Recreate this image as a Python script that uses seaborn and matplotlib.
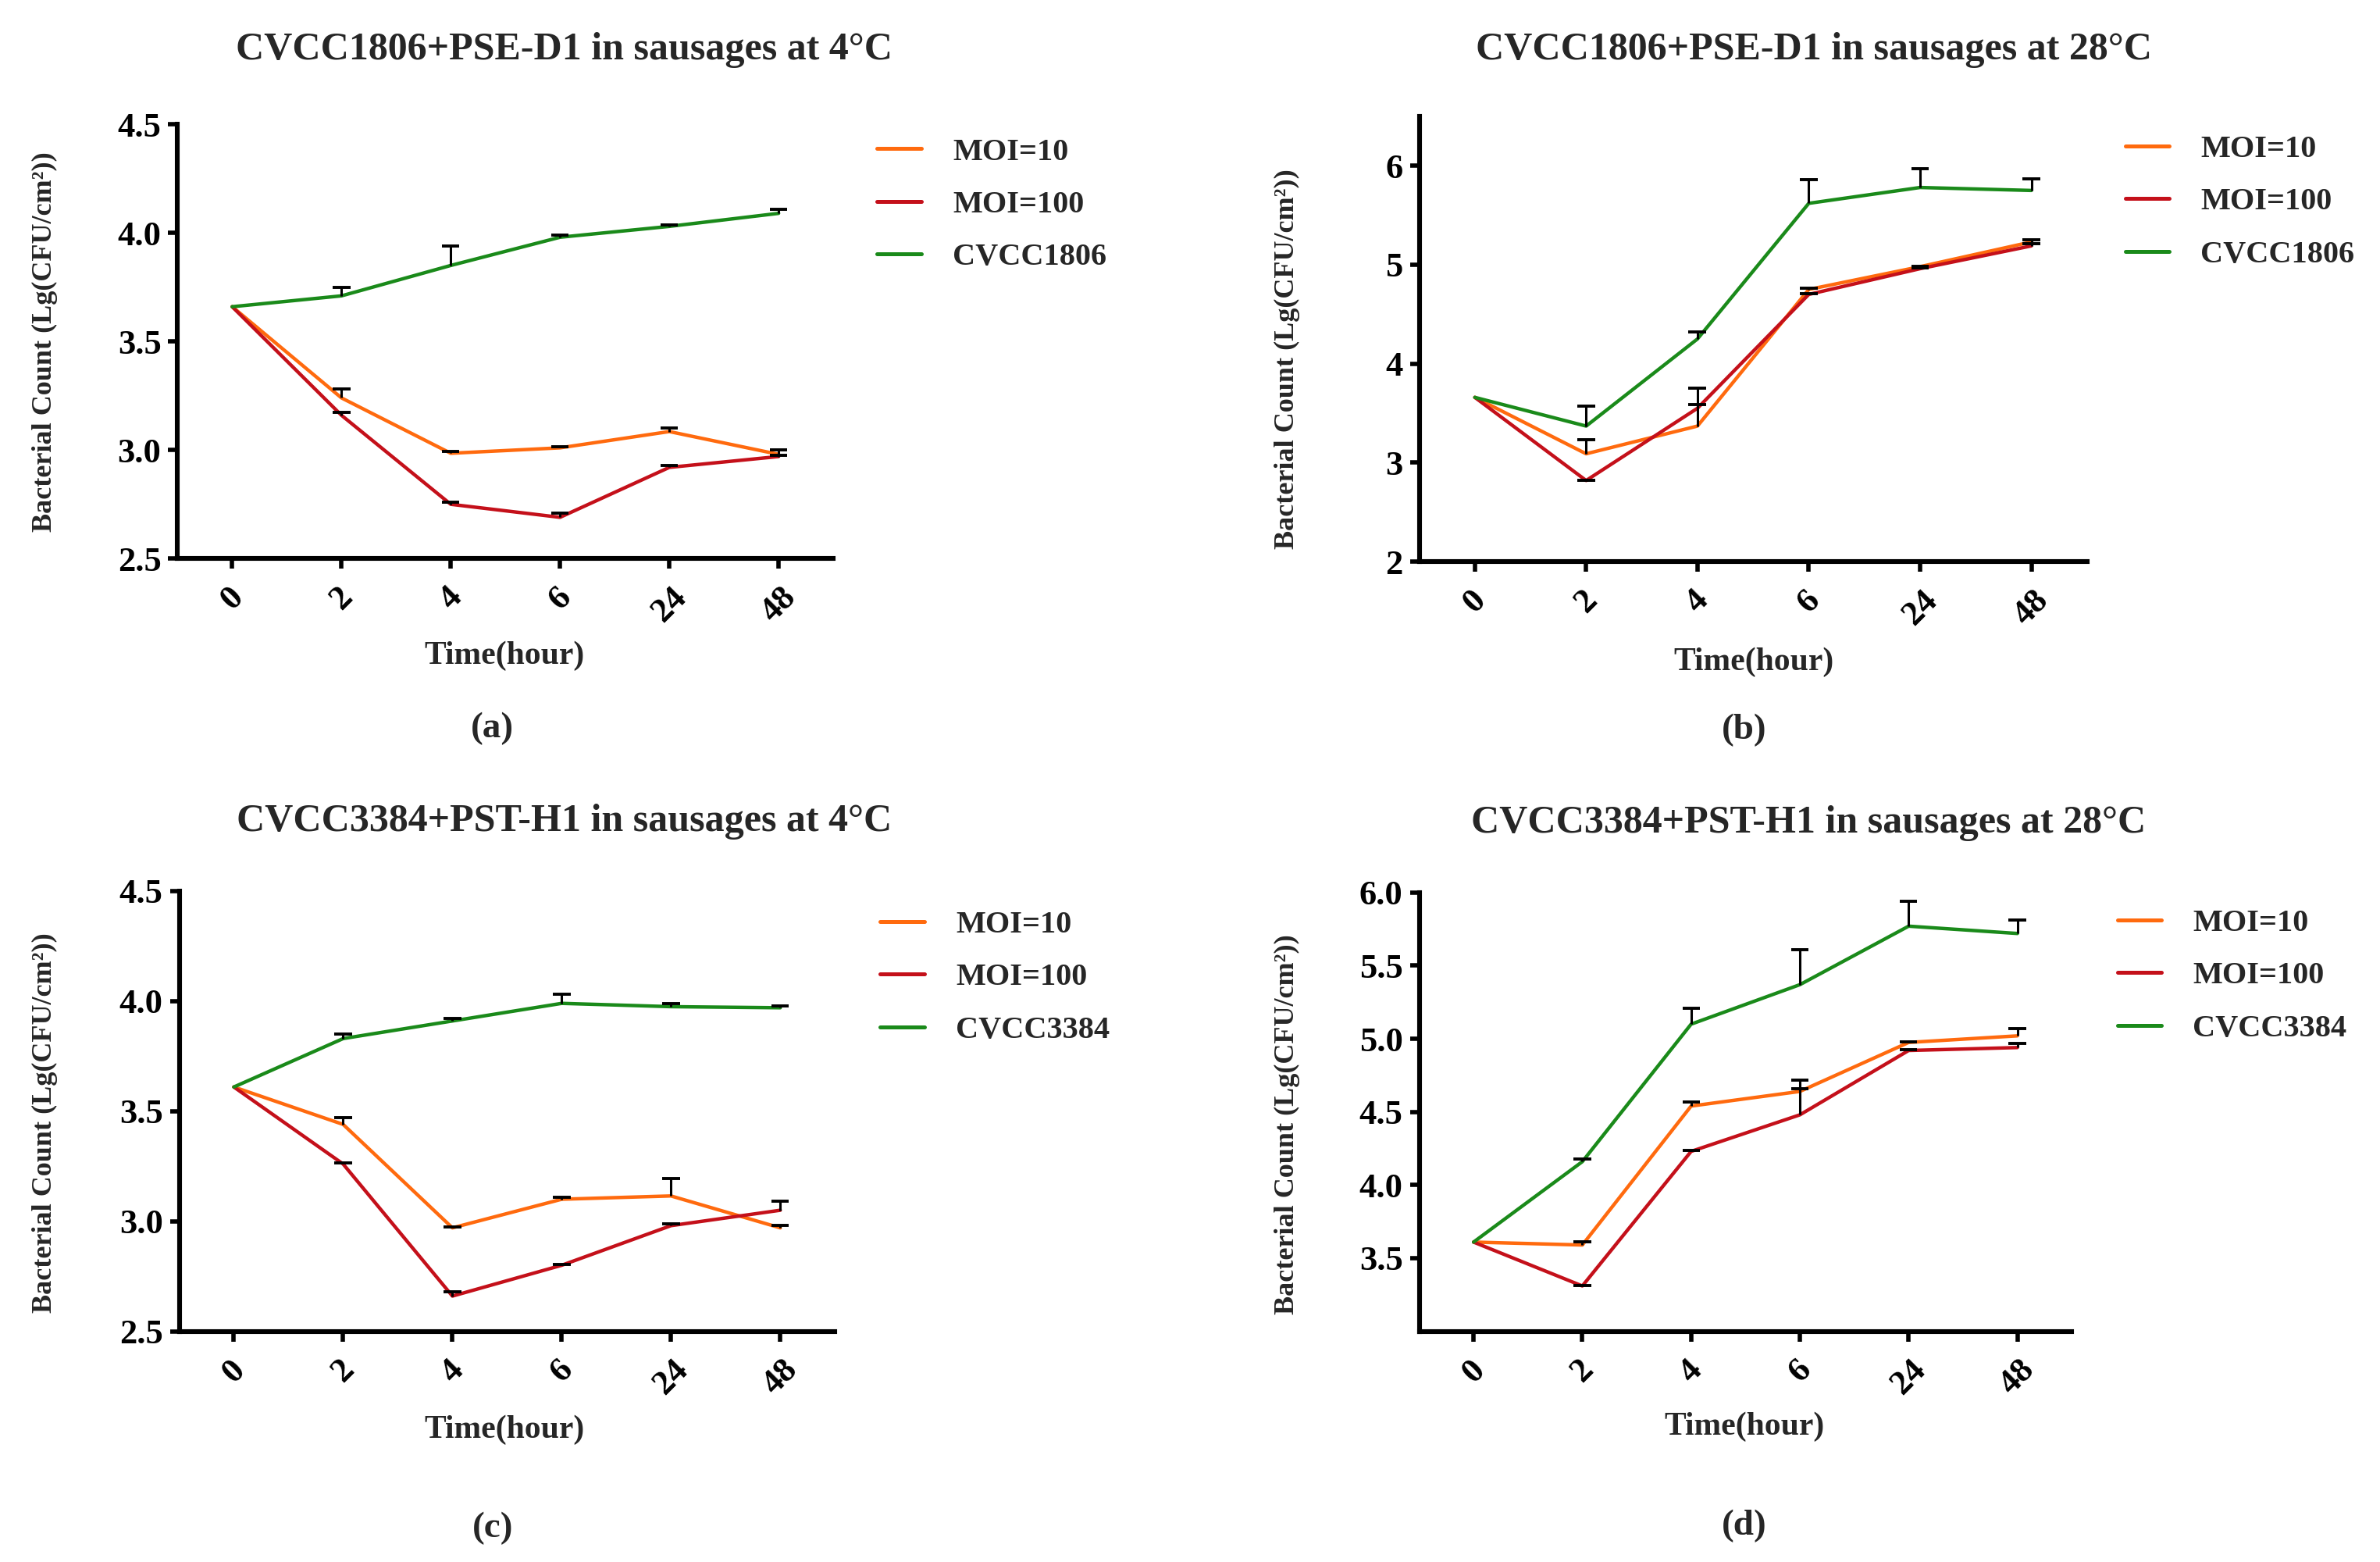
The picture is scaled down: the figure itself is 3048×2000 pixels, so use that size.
import numpy as np
import pandas as pd
import matplotlib
matplotlib.use("Agg")
import matplotlib.pyplot as plt
import seaborn as sns

# ---------------- data ----------------
times = ["0", "2", "4", "6", "24", "48"]

# (a) CVCC1806 + PSE-D1, 4 C
a_moi10 = [3.66, 3.24, 2.985, 3.01, 3.085, 2.98]
a_moi10_err = [0.0, 0.04, 0.01, 0.005, 0.015, 0.02]
a_moi100 = [3.66, 3.16, 2.75, 2.69, 2.92, 2.97]
a_moi100_err = [0.0, 0.015, 0.01, 0.02, 0.01, 0.005]
a_ctrl = [3.66, 3.71, 3.85, 3.98, 4.03, 4.09]
a_ctrl_err = [0.0, 0.04, 0.09, 0.01, 0.005, 0.02]

# (b) CVCC1806 + PSE-D1, 28 C
b_moi10 = [3.66, 3.09, 3.37, 4.75, 4.98, 5.23]
b_moi10_err = [0.0, 0.14, 0.22, 0.01, 0.005, 0.02]
b_moi100 = [3.66, 2.82, 3.55, 4.70, 4.96, 5.19]
b_moi100_err = [0.0, 0.005, 0.20, 0.01, 0.01, 0.02]
b_ctrl = [3.66, 3.37, 4.25, 5.62, 5.78, 5.75]
b_ctrl_err = [0.0, 0.20, 0.07, 0.24, 0.19, 0.12]

# (c) CVCC3384 + PST-H1, 4 C
c_moi10 = [3.61, 3.44, 2.97, 3.10, 3.115, 2.97]
c_moi10_err = [0.0, 0.03, 0.005, 0.01, 0.08, 0.01]
c_moi100 = [3.61, 3.26, 2.66, 2.80, 2.98, 3.05]
c_moi100_err = [0.0, 0.005, 0.02, 0.005, 0.01, 0.04]
c_ctrl = [3.61, 3.83, 3.91, 3.99, 3.975, 3.97]
c_ctrl_err = [0.0, 0.02, 0.01, 0.04, 0.015, 0.01]

# (d) CVCC3384 + PST-H1, 28 C
d_moi10 = [3.61, 3.59, 4.54, 4.64, 4.975, 5.02]
d_moi10_err = [0.0, 0.02, 0.03, 0.08, 0.005, 0.05]
d_moi100 = [3.61, 3.31, 4.23, 4.48, 4.92, 4.94]
d_moi100_err = [0.0, 0.005, 0.005, 0.18, 0.005, 0.03]
d_ctrl = [3.61, 4.16, 5.10, 5.37, 5.77, 5.72]
d_ctrl_err = [0.0, 0.02, 0.11, 0.24, 0.17, 0.09]

titles = ["CVCC1806+PSE-D1 in sausages at 4\u00b0C",
          "CVCC1806+PSE-D1 in sausages at 28\u00b0C",
          "CVCC3384+PST-H1 in sausages at 4\u00b0C",
          "CVCC3384+PST-H1 in sausages at 28\u00b0C"]
ctrl_names = ["CVCC1806", "CVCC1806", "CVCC3384", "CVCC3384"]
letters = ["(a)", "(b)", "(c)", "(d)"]
ylims = [(2.5, 4.5), (2.0, 6.5), (2.5, 4.5), (3.0, 6.0)]
yticks = [[2.5, 3.0, 3.5, 4.0, 4.5], [2, 3, 4, 5, 6],
          [2.5, 3.0, 3.5, 4.0, 4.5], [3.5, 4.0, 4.5, 5.0, 5.5, 6.0]]
yfmt = ["%.1f", "%d", "%.1f", "%.1f"]

panels = [
    (a_moi10, a_moi10_err, a_moi100, a_moi100_err, a_ctrl, a_ctrl_err),
    (b_moi10, b_moi10_err, b_moi100, b_moi100_err, b_ctrl, b_ctrl_err),
    (c_moi10, c_moi10_err, c_moi100, c_moi100_err, c_ctrl, c_ctrl_err),
    (d_moi10, d_moi10_err, d_moi100, d_moi100_err, d_ctrl, d_ctrl_err),
]

# ---------------- layout ----------------
sns.set_theme(style="ticks")
plt.rcParams["font.family"] = ["Liberation Serif", "DejaVu Serif"]
plt.rcParams["font.weight"] = "bold"
plt.rcParams["axes.labelweight"] = "bold"

col_orange = "#FF6A0E"
col_red = "#C4101A"
col_green = "#1A8A1A"

fig = plt.figure(figsize=(15.24, 10.0), dpi=200)

axes_rect = [
    [0.0746, 0.6424, 0.2755, 0.2780],
    [0.5963, 0.6404, 0.2806, 0.2852],
    [0.0753, 0.1477, 0.2755, 0.2818],
    [0.5963, 0.1477, 0.2742, 0.2809],
]
title_pos = [(0.237, 0.968), (0.762, 0.968), (0.237, 0.474), (0.760, 0.473)]
ylab_pos = [(0.019, 0.781), (0.541, 0.770), (0.019, 0.281), (0.541, 0.280)]
xlab_pos = [(0.212, 0.580), (0.737, 0.576), (0.212, 0.0845), (0.733, 0.0865)]
letter_pos = [(0.207, 0.5335), (0.733, 0.5325), (0.207, 0.0214), (0.733, 0.0233)]
leg_pos = [(0.3686, 0.8688), (0.8929, 0.8707), (0.3699, 0.3741), (0.8897, 0.3751)]

for i, (m10, m10e, m100, m100e, ctrl, ctrle) in enumerate(panels):
    ax = fig.add_axes(axes_rect[i])
    names = ["MOI=10", "MOI=100", ctrl_names[i]]
    vals = [m10, m100, ctrl]
    errs = [m10e, m100e, ctrle]
    rows = []
    for nm, v, e in zip(names, vals, errs):
        for k, t in enumerate(times):
            rows.append({"pos": k, "time": t, "value": v[k], "err": e[k], "series": nm})
    df = pd.DataFrame(rows)
    pal = {names[0]: col_orange, names[1]: col_red, names[2]: col_green}
    sns.lineplot(data=df, x="pos", y="value", hue="series", palette=pal,
                 hue_order=names, linewidth=1.6, ax=ax, legend=True,
                 errorbar=None, zorder=3)
    # upper-only error bars (GraphPad style)
    top = df["value"] + df["err"]
    sel = df["err"] > 0
    ax.vlines(df.loc[sel, "pos"], df.loc[sel, "value"], top[sel],
              color="black", linewidth=1.1, zorder=4)
    ax.hlines(top[sel], df.loc[sel, "pos"] - 0.08, df.loc[sel, "pos"] + 0.08,
              color="black", linewidth=1.4, zorder=4)

    ax.set_xlim(-0.5, 5.5)
    ax.set_ylim(*ylims[i])
    ax.set_xticks(range(len(times)))
    ax.set_xticklabels(times, rotation=45, ha="center", va="top")
    ax.set_yticks(yticks[i])
    ax.set_yticklabels([yfmt[i] % v for v in yticks[i]])
    ax.tick_params(axis="both", which="major", direction="out", length=4.5,
                   width=2.0, labelsize=16, pad=3, colors="black")
    ax.tick_params(axis="x", pad=6)
    for lab in ax.get_xticklabels() + ax.get_yticklabels():
        lab.set_fontweight("bold")
    sns.despine(ax=ax)
    for sp in ["left", "bottom"]:
        ax.spines[sp].set_linewidth(2.2)
        ax.spines[sp].set_color("black")
    ax.set_xlabel("")
    ax.set_ylabel("")

    leg = ax.legend(loc="center left", bbox_to_anchor=leg_pos[i],
                    bbox_transform=fig.transFigure, frameon=False,
                    fontsize=14.5, handlelength=1.4, handletextpad=1.0,
                    labelspacing=0.75, borderpad=0, borderaxespad=0)
    for line in leg.get_lines():
        line.set_linewidth(1.8)
    for txt in leg.get_texts():
        txt.set_fontweight("bold")

    fig.text(*title_pos[i], titles[i], ha="center", va="center",
             fontsize=18, fontweight="bold")
    fig.text(*ylab_pos[i], "Bacterial Count (Lg(CFU/cm\u00b2))", ha="center",
             va="center", rotation=90, fontsize=13, fontweight="bold")
    fig.text(*xlab_pos[i], "Time(hour)", ha="center", va="center",
             fontsize=15, fontweight="bold")
    fig.text(*letter_pos[i], letters[i], ha="center", va="center",
             fontsize=17, fontweight="bold")

fig.savefig("out.png", dpi=200, facecolor="white")
